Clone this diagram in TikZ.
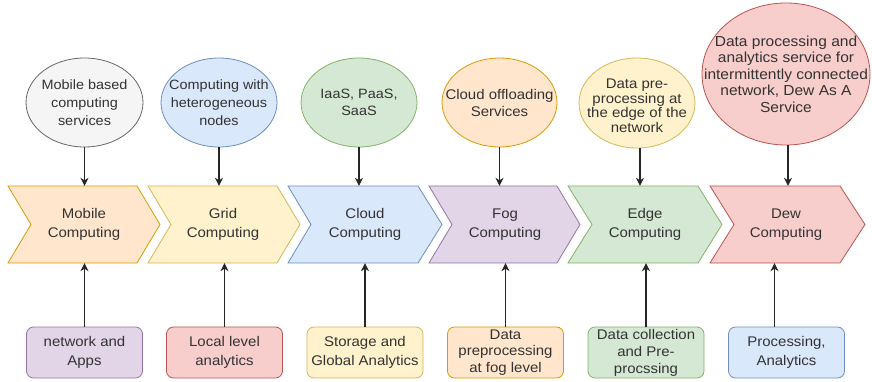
\documentclass[tikz,border=0pt]{standalone}
\usepackage{fontspec}
\setmainfont{Liberation Sans}[FakeStretch=1.07]
\usetikzlibrary{shapes.geometric,arrows.meta}

\definecolor{txtgray}{HTML}{333333}
\definecolor{grayfill}{HTML}{F5F5F5}\definecolor{grayline}{HTML}{666666}
\definecolor{bluefill}{HTML}{DAE8FC}\definecolor{blueline}{HTML}{6C8EBF}
\definecolor{greenfill}{HTML}{D5E8D4}\definecolor{greenline}{HTML}{82B366}
\definecolor{orangefill}{HTML}{FFE6CC}\definecolor{orangeline}{HTML}{D79B00}
\definecolor{yellowfill}{HTML}{FFF2CC}\definecolor{yellowline}{HTML}{D6B656}
\definecolor{redfill}{HTML}{F8CECC}\definecolor{redline}{HTML}{B85450}
\definecolor{purplefill}{HTML}{E1D5E7}\definecolor{purpleline}{HTML}{9673A6}

\begin{document}
\begin{tikzpicture}[x=1pt,y=-1pt,
  chev/.style={line width=.8pt},
  lbl/.style={align=center,inner sep=0pt,minimum height=77pt,text=txtgray,font=\fontsize{14}{19}\selectfont},
  oval/.style={ellipse,inner sep=0pt,line width=.8pt},
  otxt/.style={align=center,inner sep=0pt,text=txtgray,font=\fontsize{13.5}{18}\selectfont},
  box/.style={rounded corners=7pt,minimum width=116pt,minimum height=51pt,inner sep=0pt,align=center,line width=.8pt,text=txtgray,font=\fontsize{14}{19}\selectfont},
  arr/.style={-{Stealth[length=8pt,width=8pt]},line width=1.2pt,black!85}]
\path[use as bounding box] (0,0) rectangle (872,382);

% chevrons
\draw[chev,fill=orangefill,draw=orangeline] (8,186)--(137,186)--(160,224.5)--(137,263)--(8,263)--(31,224.5)--cycle;
\draw[chev,fill=yellowfill,draw=yellowline] (148,186)--(277,186)--(300,224.5)--(277,263)--(148,263)--(171,224.5)--cycle;
\draw[chev,fill=bluefill,draw=blueline] (288,186)--(418,186)--(442,224.5)--(418,263)--(288,263)--(311,224.5)--cycle;
\draw[chev,fill=purplefill,draw=purpleline] (429,186)--(557,186)--(580,224.5)--(557,263)--(429,263)--(452,224.5)--cycle;
\draw[chev,fill=greenfill,draw=greenline] (568,186)--(698,186)--(722,224.5)--(698,263)--(568,263)--(592,224.5)--cycle;
\draw[chev,fill=redfill,draw=redline] (710,186)--(840,186)--(865,224.5)--(840,263)--(710,263)--(734,224.5)--cycle;
\node[lbl] (c1) at (84,224.5) {Mobile\\Computing};
\node[lbl] (c2) at (223,224.5) {Grid\\Computing};
\node[lbl] (c3) at (365,224.5) {Cloud\\Computing};
\node[lbl] (c4) at (505,224.5) {Fog\\Computing};
\node[lbl] (c5) at (645,224.5) {Edge\\Computing};
\node[lbl] (c6) at (786,224.5) {Dew\\Computing};

% services on top
\node[oval,fill=grayfill,draw=grayline,minimum width=117pt,minimum height=89pt] (e1) at (84.5,102.5) {};
\node[oval,fill=bluefill,draw=blueline,minimum width=116pt,minimum height=89pt] (e2) at (219,102.5) {};
\node[oval,fill=greenfill,draw=greenline,minimum width=116pt,minimum height=89pt] (e3) at (359,102.5) {};
\node[oval,fill=orangefill,draw=orangeline,minimum width=115pt,minimum height=89pt] (e4) at (499.5,102.5) {};
\node[oval,fill=yellowfill,draw=yellowline,minimum width=116pt,minimum height=90pt] (e5) at (637,103) {};
\node[oval,fill=redfill,draw=redline,minimum width=168pt,minimum height=142pt] (e6) at (786,74) {};
\node[otxt] (e1txt) at (e1) {Mobile based\\computing\\services};
\node[otxt] (e2txt) at (e2) {Computing with\\heterogeneous\\nodes};
\node[otxt,font=\fontsize{13.5}{17}\selectfont] (e3txt) at (e3) {IaaS, PaaS,\\SaaS};
\node[otxt,font=\fontsize{14}{17}\selectfont] (e4txt) at (e4) {Cloud offloading\\Services};
\node[otxt,font=\fontsize{14}{14.5}\selectfont] (e5txt) at ([yshift=-3pt]e5.center) {Data pre-\\processing at\\the edge of the\\network};
\node[otxt,font=\fontsize{14.5}{16.5}\selectfont] (e6txt) at (e6) {Data processing and\\analytics service for\\intermittently connected\\network, Dew As A\\Service};

% boxes below
\node[box,fill=purplefill,draw=purpleline] (b1) at (84.5,352.5) {network and\\Apps};
\node[box,fill=redfill,draw=redline] (b2) at (224.5,352.5) {Local level\\analytics};
\node[box,fill=yellowfill,draw=yellowline] (b3) at (365,352.5) {Storage and\\Global Analytics};
\node[box,fill=orangefill,draw=orangeline,font=\fontsize{14}{16.5}\selectfont] (b4) at (505.5,352.5) {Data\\preprocessing\\at fog level};
\node[box,fill=greenfill,draw=greenline,font=\fontsize{14}{17}\selectfont] (b5) at (646,352.5) {Data collection\\and Pre-\\procssing};
\node[box,fill=bluefill,draw=blueline] (b6) at (786.5,352.5) {Processing,\\Analytics};

% arrows
\draw[arr] (e1.south) -- (e1.south |- c1.north);
\draw[arr] (e2.south) -- (e2.south |- c2.north);
\draw[arr] (e3.south) -- (e3.south |- c3.north);
\draw[arr] (e4.south) -- (e4.south |- c4.north);
\draw[arr] ([xshift=3pt]e5.south) -- ([xshift=3pt]e5.south |- c5.north);
\draw[arr] ([xshift=2pt]e6.south) -- ([xshift=2pt]e6.south |- c6.north);
\draw[arr] (b1.north) -- (b1.north |- c1.south);
\draw[arr] (b2.north) -- (b2.north |- c2.south);
\draw[arr] (b3.north) -- (b3.north |- c3.south);
\draw[arr] (b4.north) -- (b4.north |- c4.south);
\draw[arr] (b5.north) -- (b5.north |- c5.south);
\draw[arr] ([xshift=-12pt]b6.north) -- ([xshift=-12pt]b6.north |- c6.south);
\end{tikzpicture}
\end{document}
